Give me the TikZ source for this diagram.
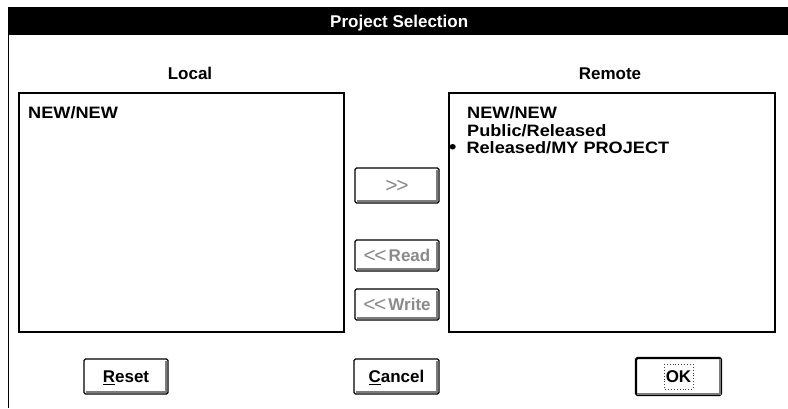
\documentclass[tikz,border=0pt]{standalone}
\usepackage{fontspec}
\setmainfont{Liberation Sans}
\newfontfamily\listfont{Liberation Sans}[FakeStretch=1.1]

\definecolor{dimtext}{HTML}{8A8A8A}
\definecolor{bevelgray}{HTML}{7C7C7C}

% lower-right bevel inside a push button
\newcommand\btnbevel[1]{%
  \draw[bevel] ([shift={(2.3,-2.3)}]#1.south west) -- ([shift={(-2.3,-2.3)}]#1.south east)
    -- ([shift={(-2.3,2.3)}]#1.north east);}
% pair of chevrons used on the transfer buttons
\newcommand\chevrons[1]{{\mdseries\fontsize{21}{21}\selectfont\raisebox{-0.8pt}{#1\kern-1.5pt#1}}}

\begin{document}
\begin{tikzpicture}[x=1pt,y=-1pt,
  titlebar/.style={fill=black, inner sep=0, anchor=north west,
    text=white, font=\fontsize{17}{17}\selectfont\bfseries, text height=12, text depth=0},
  heading/.style={font=\fontsize{17}{17}\selectfont\bfseries, anchor=base, inner sep=0},
  listbox/.style={draw=black, line width=1.3pt, fill=white, inner sep=0},
  entry/.style={font=\listfont\fontsize{16.5}{16.5}\selectfont\bfseries, anchor=base west, inner sep=0},
  btn/.style={draw=black, line width=1.2pt, fill=white, rounded corners=1.5pt,
    minimum width=84, minimum height=35, inner sep=0,
    font=\fontsize{17}{17}\selectfont\bfseries, text height=12, text depth=0},
  default/.style={line width=2.4pt},
  disabled/.style={text=dimtext},
  bevel/.style={draw=bevelgray, line width=2pt},
  focus/.style={draw=black!75, dotted, line width=0.9pt},
  frame/.style={draw=black, line width=1.5pt}]

\useasboundingbox (0,0) rectangle (788,408);
\fill[white] (0,0) rectangle (788,408);

% window frame and caption
\coordinate (frametop) at (8.5,35);
\coordinate (framebot) at (8.5,408);
\draw[frame] (frametop) -- (framebot);
\node[titlebar, minimum width=780, minimum height=28] (title) at (8,7) {\hspace{2pt}Project Selection};

% list headings
\node[heading] (lochead) at (190,79) {Local};
\node[heading] (remhead) at (610,79) {Remote};

% list boxes
\node[listbox, minimum width=325, minimum height=239] (local) at (181.5,212.5) {};
\node[listbox, minimum width=326, minimum height=239] (remote) at (612,212.5) {};

% list entries
\node[entry] (l1) at (28,118) {NEW/NEW};
\node[entry] (r1) at (467,118) {NEW/NEW};
\node[entry] (r2) at (467,136) {Public/Released};
\node[entry] (r3) at (449,153) {{\fontsize{19}{19}\selectfont\textbullet}\hspace{10pt}Released/MY PROJECT};

% transfer buttons (disabled)
\node[btn, disabled] (fwd) at (397,185.5) {\chevrons{>}};
\node[btn, disabled, minimum height=31] (read) at (397,255.5) {\chevrons{<}\kern2pt Read};
\node[btn, disabled, minimum height=31] (write) at (397,304.5) {\chevrons{<}\kern2pt Write};

% dialog buttons
\node[btn] (reset) at (126,376.5) {\underline{R}eset};
\node[btn, minimum width=85] (cancel) at (396.5,376.5) {\underline{C}ancel};
\node[btn, default, minimum width=85, minimum height=37] (ok) at (678.5,376.5) {OK};
\draw[focus] ([shift={(-14.5,-12.5)}]ok.center) rectangle ([shift={(14.5,12.5)}]ok.center);

\btnbevel{fwd}
\btnbevel{read}
\btnbevel{write}
\btnbevel{reset}
\btnbevel{cancel}
\btnbevel{ok}
\end{tikzpicture}
\end{document}
